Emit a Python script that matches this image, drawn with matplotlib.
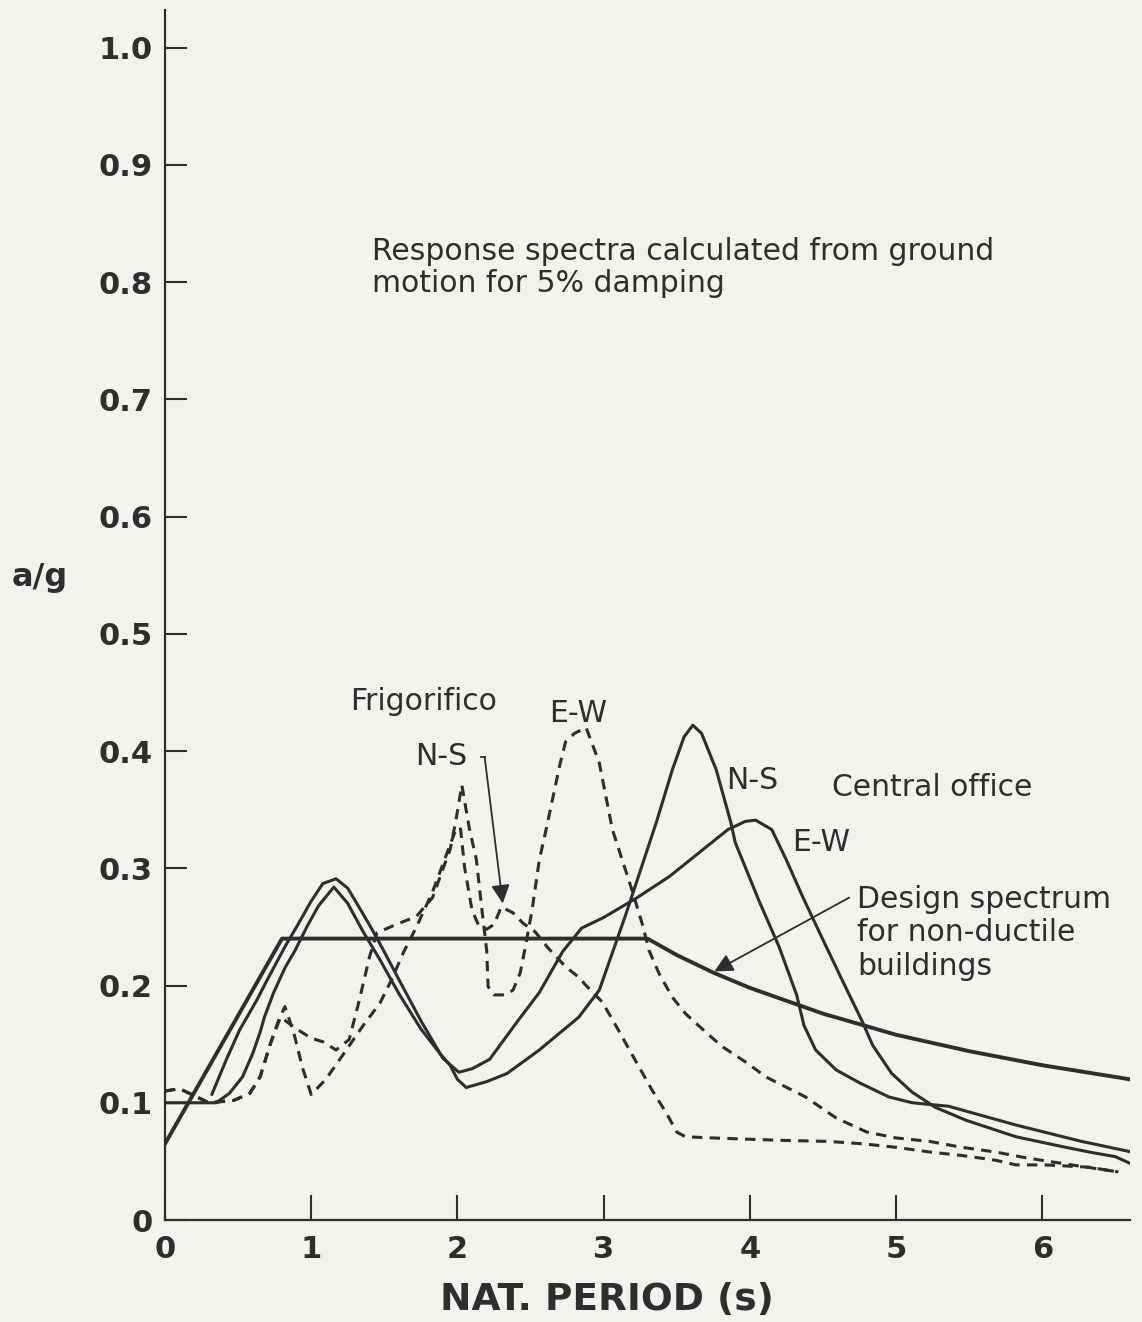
import matplotlib
matplotlib.use("Agg")
import matplotlib.pyplot as plt

# ---- values ----
# design spectrum for non-ductile buildings
design_T = [0.0, 0.8, 3.3, 3.5, 3.75, 4.0, 4.5, 5.0, 5.5, 6.0, 6.6]
design_a = [0.065, 0.24, 0.24, 0.226, 0.211, 0.198, 0.176, 0.158, 0.144, 0.132, 0.12]

# central office, N-S (solid)
co_ns_T = [0.0, 0.24, 0.35, 0.44, 0.53, 0.60, 0.65, 0.68, 0.74, 0.82, 0.89, 0.97,
           1.05, 1.155, 1.25, 1.35, 1.47, 1.60, 1.75, 1.88, 1.95, 2.00, 2.06, 2.20,
           2.34, 2.56, 2.83, 2.97, 3.06, 3.15, 3.23, 3.36, 3.47, 3.55, 3.61, 3.67,
           3.77, 3.87, 3.90, 4.06, 4.20, 4.32, 4.37, 4.45, 4.59, 4.75, 4.95, 5.11,
           5.36, 5.82, 6.27, 6.65]
co_ns_a = [0.10, 0.10, 0.10, 0.108, 0.122, 0.142, 0.16, 0.173, 0.193, 0.215, 0.23, 0.25,
           0.268, 0.284, 0.27, 0.247, 0.222, 0.193, 0.163, 0.142, 0.132, 0.12, 0.113, 0.118,
           0.125, 0.145, 0.173, 0.196, 0.228, 0.26, 0.29, 0.339, 0.384, 0.412, 0.422, 0.415,
           0.384, 0.339, 0.322, 0.273, 0.233, 0.192, 0.166, 0.145, 0.128, 0.117, 0.105, 0.10,
           0.097, 0.081, 0.067, 0.057]

# central office, E-W (solid)
co_ew_T = [0.32, 0.42, 0.51, 0.63, 0.70, 0.82, 0.90, 1.00, 1.08, 1.17, 1.25, 1.35,
           1.42, 1.49, 1.60, 1.75, 1.90, 2.01, 2.10, 2.22, 2.42, 2.56, 2.72, 2.85,
           3.00, 3.23, 3.45, 3.65, 3.85, 3.97, 4.04, 4.15, 4.25, 4.36, 4.50, 4.63,
           4.77, 4.84, 4.97, 5.11, 5.27, 5.48, 5.82, 6.16, 6.32, 6.50, 6.66]
co_ew_a = [0.107, 0.137, 0.162, 0.188, 0.205, 0.233, 0.25, 0.272, 0.287, 0.291, 0.283, 0.262,
           0.247, 0.231, 0.205, 0.17, 0.138, 0.126, 0.129, 0.137, 0.171, 0.194, 0.229, 0.249,
           0.258, 0.275, 0.293, 0.313, 0.333, 0.34, 0.341, 0.333, 0.307, 0.276, 0.239, 0.205,
           0.169, 0.149, 0.125, 0.109, 0.096, 0.085, 0.071, 0.062, 0.058, 0.054, 0.045]

# Frigorifico, N-S (dashed)
fr_ns_T = [0.0, 0.10, 0.20, 0.30, 0.47, 0.58, 0.65, 0.72, 0.77, 0.82, 0.88, 0.94,
           1.00, 1.10, 1.24, 1.35, 1.47, 1.55, 1.63, 1.72, 1.83, 1.92, 1.98, 2.02,
           2.05, 2.10, 2.15, 2.20, 2.25, 2.30, 2.38, 2.45, 2.53, 2.62, 2.74, 2.83,
           2.88, 2.99, 3.06, 3.15, 3.24, 3.33, 3.43, 3.50, 3.56, 3.74, 4.20, 4.54,
           4.77, 5.00, 5.23, 5.45, 5.68, 5.82, 6.02, 6.32, 6.52]
fr_ns_a = [0.11, 0.112, 0.106, 0.10, 0.102, 0.108, 0.122, 0.15, 0.168, 0.182, 0.16, 0.13,
           0.107, 0.12, 0.145, 0.165, 0.185, 0.205, 0.228, 0.25, 0.28, 0.31, 0.33, 0.335,
           0.30, 0.264, 0.25, 0.248, 0.252, 0.267, 0.262, 0.253, 0.246, 0.232, 0.216, 0.207,
           0.20, 0.186, 0.171, 0.151, 0.131, 0.111, 0.091, 0.075, 0.071, 0.07, 0.068, 0.067,
           0.065, 0.062, 0.058, 0.055, 0.051, 0.047, 0.047, 0.045, 0.041]

# Frigorifico, E-W (dashed)
fr_ew_T = [0.0, 0.10, 0.20, 0.30, 0.47, 0.58, 0.65, 0.72, 0.79, 0.90, 1.00, 1.08,
           1.17, 1.26, 1.33, 1.40, 1.45, 1.58, 1.72, 1.83, 1.90, 1.95, 1.99, 2.03,
           2.08, 2.13, 2.15, 2.17, 2.20, 2.21, 2.25, 2.32, 2.38, 2.43, 2.46, 2.51,
           2.56, 2.61, 2.70, 2.74, 2.80, 2.88, 2.97, 3.06, 3.20, 3.27, 3.31, 3.38,
           3.47, 3.56, 3.70, 3.81, 3.98, 4.11, 4.38, 4.59, 4.80, 5.00, 5.23, 5.45,
           5.68, 5.89, 6.20, 6.52]
fr_ew_a = [0.11, 0.112, 0.106, 0.10, 0.102, 0.108, 0.122, 0.15, 0.173, 0.163, 0.155, 0.152,
           0.145, 0.154, 0.188, 0.225, 0.245, 0.252, 0.259, 0.275, 0.299, 0.316, 0.341, 0.371,
           0.335, 0.307, 0.284, 0.262, 0.23, 0.199, 0.192, 0.192, 0.196, 0.211, 0.23, 0.264,
           0.307, 0.335, 0.388, 0.408, 0.415, 0.42, 0.39, 0.333, 0.279, 0.25, 0.23, 0.21,
           0.19, 0.176, 0.16, 0.148, 0.134, 0.122, 0.105, 0.087, 0.075, 0.07, 0.067, 0.062,
           0.058, 0.053, 0.047, 0.041]

x_ticks = [0, 1, 2, 3, 4, 5, 6]
y_ticks = [0.0, 0.1, 0.2, 0.3, 0.4, 0.5, 0.6, 0.7, 0.8, 0.9, 1.0]
y_tick_labels = ['0', '0.1', '0.2', '0.3', '0.4', '0.5', '0.6', '0.7', '0.8', '0.9', '1.0']

ink = '#2e2e2e'
paper = '#f2f2ef'
plt.rcParams['font.family'] = ['DejaVu Sans']

fig = plt.figure(figsize=(11.42, 13.22), dpi=100, facecolor=paper)
ax = fig.add_axes([165 / 1142, 1 - 1220 / 1322, (1130 - 165) / 1142, 1210 / 1322])
ax.set_facecolor(paper)

dash = (0, (3.4, 2.4))
ax.plot(design_T, design_a, color=ink, lw=2.8, solid_capstyle='round')
ax.plot(co_ns_T, co_ns_a, color=ink, lw=2.2, solid_capstyle='round')
ax.plot(co_ew_T, co_ew_a, color=ink, lw=2.2, solid_capstyle='round')
ax.plot(fr_ns_T, fr_ns_a, color=ink, lw=2.2, linestyle=dash)
ax.plot(fr_ew_T, fr_ew_a, color=ink, lw=2.2, linestyle=dash)

ax.set_xlim(0, 6.6)
ax.set_ylim(0, 1.032)
ax.set_xticks(x_ticks)
ax.set_xticklabels([str(t) for t in x_ticks])
ax.set_yticks(y_ticks)
ax.set_yticklabels(y_tick_labels)
for side in ['top', 'right']:
    ax.spines[side].set_visible(False)
for side in ['left', 'bottom']:
    ax.spines[side].set_linewidth(1.6)
    ax.spines[side].set_color(ink)
ax.tick_params(axis='y', direction='in', length=16, width=1.5, pad=9,
               labelsize=22, colors=ink)
ax.tick_params(axis='x', direction='in', length=18, width=1.5, pad=11,
               labelsize=22, colors=ink)
for lab in ax.get_xticklabels() + ax.get_yticklabels():
    lab.set_fontweight('bold')

ax.text(0.458, -0.066, 'NAT. PERIOD (s)', transform=ax.transAxes, ha='center',
        va='center', fontsize=27, fontweight='bold', color=ink)
ax.text(-0.13, 0.531, 'a/g', transform=ax.transAxes, ha='center', va='center',
        fontsize=23, fontweight='bold', color=ink)

txt = dict(color=ink, fontsize=21.5, va='center', ha='left')
ax.text(1.414, 0.826, 'Response spectra calculated from ground', **txt)
ax.text(1.414, 0.799, 'motion for 5% damping', **txt)
ax.text(1.264, 0.442, 'Frigorifico', **txt)
ax.text(1.714, 0.395, 'N-S', **txt)
ax.text(2.63, 0.432, 'E-W', **txt)
ax.text(3.84, 0.375, 'N-S', **txt)
ax.text(4.563, 0.369, 'Central office', **txt)
ax.text(4.29, 0.322, 'E-W', **txt)
ax.text(4.734, 0.273, 'Design spectrum', **txt)
ax.text(4.734, 0.245, 'for non-ductile', **txt)
ax.text(4.734, 0.216, 'buildings', **txt)

arrow = dict(arrowstyle='-|>', color=ink, lw=1.3, mutation_scale=28,
             shrinkA=0, shrinkB=0)
ax.plot([2.16, 2.186], [0.395, 0.395], color=ink, lw=1.3)
ax.annotate('', xy=(2.31, 0.27), xytext=(2.186, 0.395), arrowprops=arrow)
ax.annotate('', xy=(3.757, 0.212), xytext=(4.68, 0.275), arrowprops=arrow)

fig.savefig('out.png', dpi=100, facecolor=paper)
